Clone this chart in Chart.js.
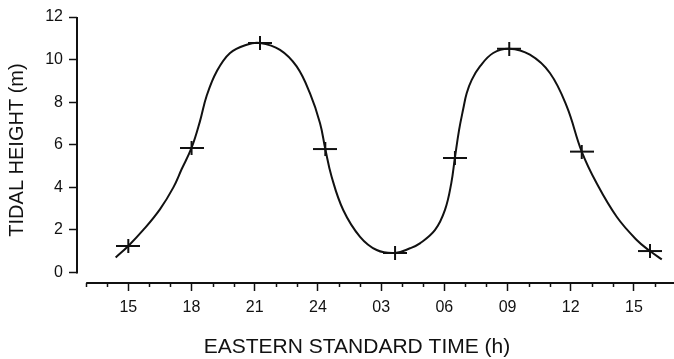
<!DOCTYPE html>
<html>
<head>
<meta charset="utf-8">
<script src="https://cdn.jsdelivr.net/npm/chart.js@4.4.1/dist/chart.umd.min.js"></script>
<style>
  html, body { margin: 0; padding: 0; background: #fff; }
</style>
</head>
<body>
<canvas id="tideChart" width="674" height="359"></canvas>
<script>
// hours are counted from 00h of the first day, so 03h next day = 27
const curveHours = [
  14.4, 15.0, 15.71, 16.5, 17.14, 17.53, 18.0, 18.4, 18.72, 19.2, 19.83, 20.62,
  21.25, 22.2, 22.99, 23.62, 24.1, 24.35, 24.65, 25.2, 26.0, 26.79, 27.66, 28.37,
  28.84, 29.56, 30.03, 30.33, 30.5, 30.7, 30.9, 31.06, 31.3, 31.69, 32.32, 33.08,
  34.06, 35.01, 35.81, 36.52, 37.23, 38.18, 39.13, 39.76, 40.32,
];
const curveHeights = [
  0.71, 1.25, 2.0, 2.97, 4.0, 4.85, 5.85, 7.1, 8.3, 9.45, 10.31, 10.7,
  10.78, 10.46, 9.68, 8.42, 7.01, 5.8, 4.5, 2.94, 1.68, 1.06, 0.92, 1.14,
  1.37, 2.0, 2.94, 4.2, 5.38, 6.7, 7.7, 8.42, 9.05, 9.68, 10.31, 10.51,
  10.23, 9.37, 7.8, 5.68, 4.19, 2.62, 1.53, 1.01, 0.62,
];

const obsHours = [15.0, 18.0, 21.25, 24.35, 27.66, 30.5, 33.08, 36.52, 39.76];
const obsHeights = [1.25, 5.85, 10.78, 5.8, 0.92, 5.38, 10.51, 5.68, 1.01];

const xTickHours = [
  13, 14, 15, 16, 17, 18, 19, 20, 21, 22, 23, 24, 25, 26,
  27, 28, 29, 30, 31, 32, 33, 34, 35, 36, 37, 38, 39, 40,
];
const xLabelHours = [15, 18, 21, 24, 27, 30, 33, 36, 39];
const xLabels = ["15", "18", "21", "24", "03", "06", "09", "12", "15"];
const yTicks = [0, 2, 4, 6, 8, 10, 12];

const FONT = "'Liberation Sans', Arial, Helvetica, sans-serif";
const INK = "#111";

// wide "+" marker like the hand-drawn crosses
function makeCross() {
  const c = document.createElement("canvas");
  c.width = 24;
  c.height = 14;
  const g = c.getContext("2d");
  g.strokeStyle = INK;
  g.lineWidth = 2;
  g.beginPath();
  g.moveTo(0, 7);
  g.lineTo(24, 7);
  g.moveTo(12, 0);
  g.lineTo(12, 14);
  g.stroke();
  return c;
}

const axisDecor = {
  id: "axisDecor",
  afterDraw(chart) {
    const { ctx, chartArea } = chart;
    const xs = chart.scales.x;
    const ys = chart.scales.y;
    ctx.save();
    ctx.strokeStyle = INK;
    ctx.lineWidth = 2;
    ctx.beginPath();
    ctx.moveTo(chartArea.left, ys.getPixelForValue(0) + 1);
    ctx.lineTo(chartArea.left, ys.getPixelForValue(12));
    ctx.stroke();
    ctx.beginPath();
    ctx.moveTo(xs.getPixelForValue(xTickHours[0]), chartArea.bottom);
    ctx.lineTo(chartArea.right, chartArea.bottom);
    ctx.stroke();

    // short hourly ticks
    ctx.lineWidth = 1.5;
    xTickHours.forEach((h) => {
      if (xLabelHours.includes(h)) return;
      const px = Math.round(xs.getPixelForValue(h)) + 0.5;
      ctx.beginPath();
      ctx.moveTo(px, chartArea.bottom);
      ctx.lineTo(px, chartArea.bottom + 4);
      ctx.stroke();
    });

    ctx.fillStyle = INK;
    ctx.font = "21px " + FONT;
    ctx.textAlign = "center";
    ctx.textBaseline = "middle";
    ctx.fillText("EASTERN STANDARD TIME (h)", 357, 347);
    ctx.restore();
  },
};

new Chart(document.getElementById("tideChart"), {
  type: "scatter",
  data: {
    datasets: [
      {
        label: "Tide",
        data: curveHours.map((h, i) => ({ x: h, y: curveHeights[i] })),
        showLine: true,
        borderColor: INK,
        borderWidth: 2,
        pointRadius: 0,
        tension: 0.4,
        fill: false,
      },
      {
        label: "Observed",
        data: obsHours.map((h, i) => ({ x: h, y: obsHeights[i] })),
        pointStyle: makeCross(),
        pointRadius: 6,
      },
    ],
  },
  options: {
    responsive: false,
    animation: false,
    layout: { autoPadding: false, padding: { top: 17, right: 0, bottom: 0, left: 0 } },
    plugins: { legend: { display: false }, tooltip: { enabled: false } },
    scales: {
      x: {
        type: "linear",
        min: 12.565,
        max: 40.9,
        border: { display: false },
        afterBuildTicks: (scale) => {
          scale.ticks = xTickHours.map((v) => ({ value: v }));
        },
        afterFit: (scale) => {
          scale.height = 76;
        },
        grid: {
          drawOnChartArea: false,
          drawTicks: true,
          tickLength: 8,
          tickWidth: 1.5,
          tickColor: (c) =>
            c.tick && xLabelHours.includes(c.tick.value) ? INK : "rgba(0,0,0,0)",
        },
        ticks: {
          autoSkip: false,
          maxRotation: 0,
          minRotation: 0,
          padding: 7,
          color: INK,
          font: { family: FONT, size: 16 },
          callback: (value) => {
            const i = xLabelHours.indexOf(value);
            return i >= 0 ? xLabels[i] : "";
          },
        },
      },
      y: {
        min: -0.49,
        max: 12,
        border: { display: false },
        afterBuildTicks: (scale) => {
          scale.ticks = yTicks.map((v) => ({ value: v }));
        },
        afterFit: (scale) => {
          scale.width = 77;
        },
        grid: {
          drawOnChartArea: false,
          drawTicks: true,
          tickLength: 8,
          tickWidth: 1.5,
          tickColor: INK,
        },
        ticks: {
          padding: 6,
          color: INK,
          font: { family: FONT, size: 16 },
        },
        title: {
          display: true,
          text: "TIDAL HEIGHT (m)",
          color: INK,
          font: { family: FONT, size: 20 },
          padding: { top: 5, bottom: 0 },
        },
      },
    },
  },
  plugins: [axisDecor],
});
</script>
</body>
</html>
